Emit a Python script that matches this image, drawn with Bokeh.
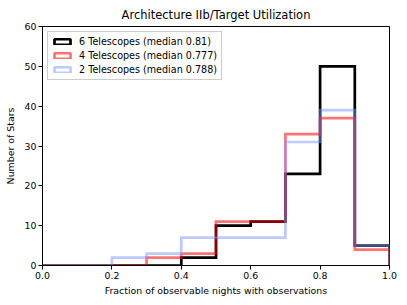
import numpy as np
from bokeh.plotting import figure
from bokeh.models import Legend, LegendItem, FixedTicker
from bokeh.embed import file_html
from bokeh.resources import INLINE

bin_edges = [0.0, 0.1, 0.2, 0.3, 0.4, 0.5, 0.6, 0.7, 0.8, 0.9, 1.0]
counts_6 = [0, 0, 0, 0, 2, 10, 11, 23, 50, 5]
counts_4 = [0, 0, 0, 2, 3, 11, 11, 33, 37, 4]
counts_2 = [0, 0, 2, 3, 7, 7, 7, 31, 39, 5]
labels = ["6 Telescopes (median 0.81)", "4 Telescopes (median 0.777)", "2 Telescopes (median 0.788)"]
colors = ["#000000", "#ff0000", "#7896ff"]
alphas = [1.0, 0.55, 0.5]
x_ticks = [0.0, 0.2, 0.4, 0.6, 0.8, 1.0]
y_ticks = [0, 10, 20, 30, 40, 50, 60]

FONT = "DejaVu Sans"

p = figure(width=400, height=300, x_range=(0, 1), y_range=(0, 60),
           output_backend="svg", toolbar_location=None,
           title="Architecture IIb/Target Utilization")
p.min_border_left = 42
p.min_border_right = 11
p.min_border_top = 25
p.min_border_bottom = 35
p.title.align = "center"
p.title.text_font = FONT
p.title.text_font_size = "11.5px"
p.title.text_font_style = "normal"
p.title.text_color = "black"

p.xgrid.visible = False
p.ygrid.visible = False
p.outline_line_color = "black"
p.outline_line_width = 1
p.outline_line_alpha = 1

for ax in (p.xaxis[0], p.yaxis[0]):
    ax.major_label_text_font = FONT
    ax.major_label_text_font_size = "9.4px"
    ax.axis_label_text_font = FONT
    ax.axis_label_text_font_size = "9.4px"
    ax.axis_label_text_font_style = "normal"
    ax.axis_label_text_color = "black"
    ax.minor_tick_line_color = None
    ax.major_tick_in = 0
    ax.major_tick_out = 4
    ax.axis_line_color = "black"
    ax.major_tick_line_color = "black"
    ax.major_label_text_color = "black"

p.xaxis.ticker = FixedTicker(ticks=x_ticks)
p.yaxis.ticker = FixedTicker(ticks=y_ticks)
p.xaxis.major_label_overrides = {t: f"{t:.1f}" for t in x_ticks}
p.xaxis.axis_label = "Fraction of observable nights with observations"
p.yaxis.axis_label = "Number of Stars"
p.xaxis.axis_label_standoff = 3
p.yaxis.axis_label_standoff = 6
p.xaxis.major_label_standoff = 2
p.yaxis.major_label_standoff = 2


def outline(edges, counts):
    e = np.asarray(edges, dtype=float)
    c = np.asarray(counts, dtype=float)
    xs = np.repeat(e, 2)
    ys = np.concatenate([[0.0], np.repeat(c, 2), [0.0]])
    return xs, ys


items = []
for cnt, lab, col, a in zip([counts_6, counts_4, counts_2], labels, colors, alphas):
    xs, ys = outline(bin_edges, cnt)
    p.line(xs, ys, line_color=col, line_alpha=a, line_width=2.7, line_join="miter")
    dummy = p.quad(left=[np.nan], right=[np.nan], top=[np.nan], bottom=[np.nan],
                   fill_alpha=0, line_color=col, line_alpha=a, line_width=2.7)
    items.append(LegendItem(label=lab, renderers=[dummy]))

legend = Legend(items=items, location="top_left")
legend.label_text_font = FONT
legend.label_text_font_size = "9.6px"
legend.label_text_color = "black"
legend.glyph_width = 20
legend.glyph_height = 7
legend.label_height = 10
legend.spacing = 3
legend.padding = 4
legend.margin = 5
legend.label_standoff = 7
legend.border_line_color = "#cccccc"
legend.border_line_alpha = 1
legend.background_fill_alpha = 0.8
p.add_layout(legend)

open("out.html", "w").write(file_html(p, INLINE))
